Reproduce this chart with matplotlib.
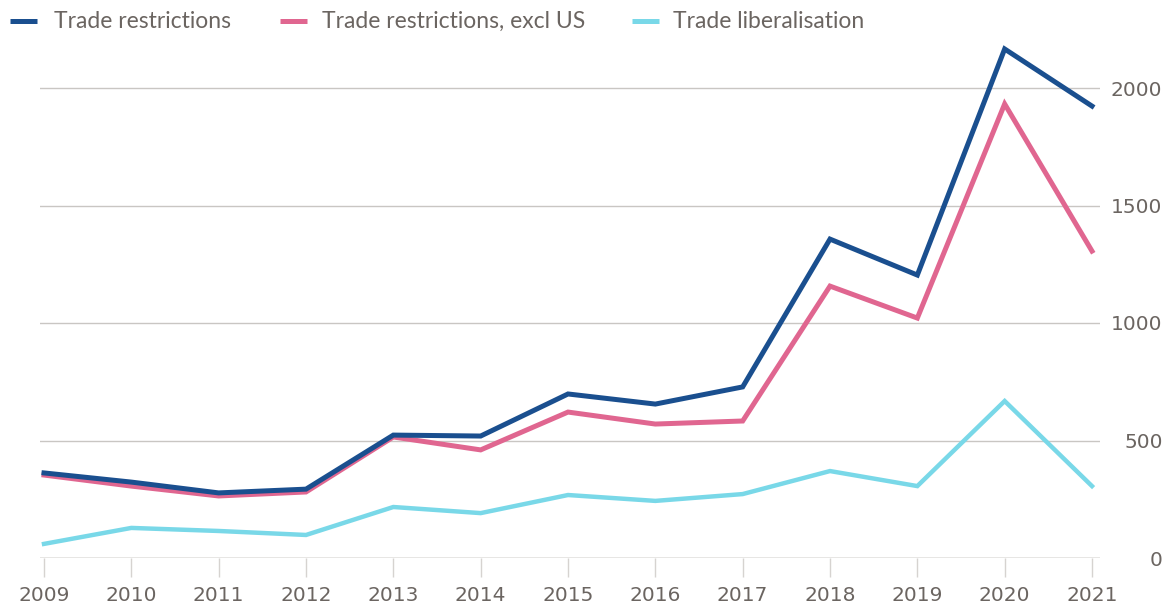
import matplotlib
matplotlib.use("Agg")
import matplotlib.pyplot as plt
from matplotlib.lines import Line2D

years = [2009, 2010, 2011, 2012, 2013, 2014, 2015, 2016, 2017, 2018, 2019, 2020, 2021]
restrictions = [362, 323, 277, 293, 523, 519, 698, 655, 728, 1357, 1204, 2166, 1923]
restrictions_ex_us = [353, 306, 264, 281, 515, 460, 621, 570, 583, 1157, 1021, 1932, 1306]
liberalisation = [60, 128, 115, 98, 217, 191, 268, 243, 272, 370, 306, 668, 306]
yticks = [0, 500, 1000, 1500, 2000]
series_names = ['Trade restrictions', 'Trade restrictions, excl US', 'Trade liberalisation']

W, H = 1174, 609
fig = plt.figure(figsize=(W / 100, H / 100), dpi=100)
ax = fig.add_axes([40 / W, (H - 558) / H, (1100 - 40) / W, (558 - 35) / H])

plt.rcParams['font.family'] = ['Lato', 'DejaVu Sans']
txt = '#6b6561'

c_blue = '#1a4f8f'
c_pink = '#e06690'
c_cyan = '#79d8e8'

ax.plot(years, restrictions_ex_us, color=c_pink, lw=3.6, solid_joinstyle='miter', zorder=3)
ax.plot(years, restrictions, color=c_blue, lw=3.6, solid_joinstyle='miter', zorder=4)
ax.plot(years, liberalisation, color=c_cyan, lw=3.2, solid_joinstyle='miter', zorder=5)

px_per_year = (1092 - 44) / 12
ax.set_xlim(2009 - 4 / px_per_year, 2021 + 8 / px_per_year)
ax.set_ylim(0, (558 - 35) / 0.235)

for s in ax.spines.values():
    s.set_visible(False)

for v in yticks[1:]:
    ax.axhline(v, color='#c9c6c3', lw=1.0, zorder=1)
ax.axhline(0, color='#e3e1df', lw=1.2, zorder=1)

ax.set_xticks(years)
ax.set_xticklabels([str(y) for y in years], fontsize=14.5, color=txt)
ax.tick_params(axis='x', length=14, width=1, color='#d6d3d0', pad=6)

ax.yaxis.tick_right()
ax.set_yticks(yticks)
ax.set_yticklabels([str(v) for v in yticks], fontsize=14.5, color=txt)
ax.tick_params(axis='y', length=0, pad=45)
for lab in ax.get_yticklabels():
    lab.set_horizontalalignment('right')

# legend, drawn manually at top
colors = [c_blue, c_pink, c_cyan]
handle_x = [(10, 37), (280, 307), (632, 659)]
text_x = [54, 322, 673]
ly = (H - 21) / H
for name, col, (x0, x1), tx in zip(series_names, colors, handle_x, text_x):
    fig.add_artist(Line2D([x0 / W, x1 / W], [ly, ly], color=col, lw=3.6,
                          transform=fig.transFigure, solid_capstyle='butt'))
    fig.text(tx / W, ly, name, fontsize=16.5, color=txt, va='center', ha='left')

fig.savefig('out.png', dpi=100, facecolor='white')
